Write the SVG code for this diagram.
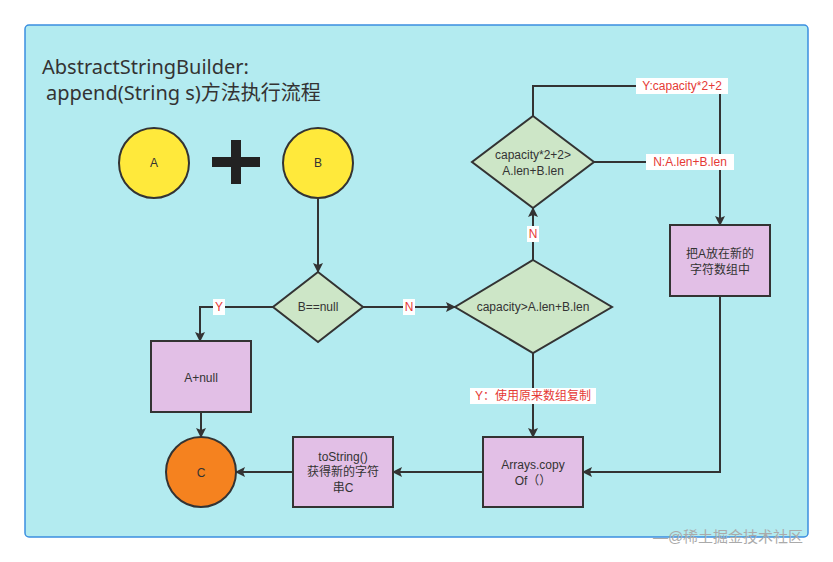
<svg xmlns="http://www.w3.org/2000/svg" width="833" height="562" viewBox="0 0 833 562">
<style>
text{font-family:"Liberation Sans","Noto Sans CJK SC",sans-serif;fill:#333;font-size:12px;text-anchor:middle;dominant-baseline:central}
.d{fill:#cde6c7;stroke:#333;stroke-width:2}
.b{fill:#e2bfe6;stroke:#333;stroke-width:2}
.e{fill:none;stroke:#333;stroke-width:2;marker-end:url(#a)}
.l{fill:#e53935;font-size:12px}
.lb{fill:#fff}
</style>
<defs><marker id="a" markerWidth="10" markerHeight="10" refX="9" refY="5" orient="auto" markerUnits="userSpaceOnUse"><path d="M0,0L10,5L0,10L2,5z" fill="#333"/></marker></defs>
<rect x="0" y="0" width="833" height="562" fill="#fff"/>
<rect x="25" y="25" width="783" height="512" rx="4" fill="#b3ebf0" stroke="#3b8fe0" stroke-width="1.5"/>
<text x="42" y="66" style="font-size:20px;text-anchor:start;font-family:'Noto Sans','Noto Sans CJK SC',sans-serif">AbstractStringBuilder:</text>
<text x="46" y="92" style="font-size:20px;text-anchor:start;font-family:'Noto Sans','Noto Sans CJK SC',sans-serif">append(String s)方法执行流程</text>
<g id="edges">
<path class="e" d="M318,198V272"/>
<path class="e" d="M273,307H200V341"/>
<path class="e" d="M363,307H455"/>
<path class="e" d="M533,353V437"/>
<path class="e" d="M533,260V208"/>
<path class="e" d="M533,116V86H720V225"/>
<path fill="none" stroke="#333" stroke-width="2" d="M594,162H720"/>
<path class="e" d="M720,296V472H583"/>
<path class="e" d="M483,472H393"/>
<path class="e" d="M293,472H236"/>
<path class="e" d="M201,412V437"/>
<rect class="lb" x="213" y="299" width="12" height="16"/><text class="l" x="219" y="307">Y</text>
<rect class="lb" x="403" y="299" width="12" height="16"/><text class="l" x="409" y="307">N</text>
<rect class="lb" x="527" y="226" width="12" height="16"/><text class="l" x="533" y="234">N</text>
<rect class="lb" x="470" y="388" width="126" height="16"/><text class="l" x="533" y="396">Y：使用原来数组复制</text>
<rect class="lb" x="636" y="78" width="92" height="16"/><text class="l" x="682" y="86">Y:capacity*2+2</text>
<rect class="lb" x="646" y="154" width="88" height="16"/><text class="l" x="690" y="162">N:A.len+B.len</text>
</g>
<g id="A"><circle cx="154" cy="163" r="35" fill="#ffe93b" stroke="#333" stroke-width="2"/><text x="154" y="163">A</text></g>
<g id="plus"><path d="M212,162H260M236,140V184" stroke="#222" stroke-width="10"/></g>
<g id="B"><circle cx="318" cy="163" r="35" fill="#ffe93b" stroke="#333" stroke-width="2"/><text x="318" y="163">B</text></g>
<g id="bnull"><path class="d" d="M318,272L363,307L318,342L273,307z"/><text x="318" y="307">B==null</text></g>
<g id="cap"><path class="d" d="M533,260L612,307L533,353L455,307z"/><text x="533" y="307">capacity&gt;A.len+B.len</text></g>
<g id="cap2"><path class="d" d="M533,116L594,162L533,208L472,162z"/><text x="533" y="155">capacity*2+2&gt;</text><text x="533" y="171">A.len+B.len</text></g>
<g id="putA"><rect class="b" x="670" y="225" width="100" height="71"/><text x="720" y="254">把A放在新的</text><text x="720" y="270">字符数组中</text></g>
<g id="anull"><rect class="b" x="151" y="341" width="100" height="71"/><text x="201" y="378">A+null</text></g>
<g id="C"><circle cx="201" cy="472" r="35" fill="#f5821f" stroke="#333" stroke-width="2"/><text x="201" y="473">C</text></g>
<g id="tostr"><rect class="b" x="293" y="437" width="100" height="70"/><text x="343" y="457">toString()</text><text x="343" y="472">获得新的字符</text><text x="343" y="488">串C</text></g>
<g id="copy"><rect class="b" x="483" y="437" width="100" height="70"/><text x="533" y="465">Arrays.copy</text><text x="533" y="481">Of（）</text></g>
<text x="728" y="536" style="fill:#aaa;font-size:15px">—@稀土掘金技术社区</text>
</svg>
